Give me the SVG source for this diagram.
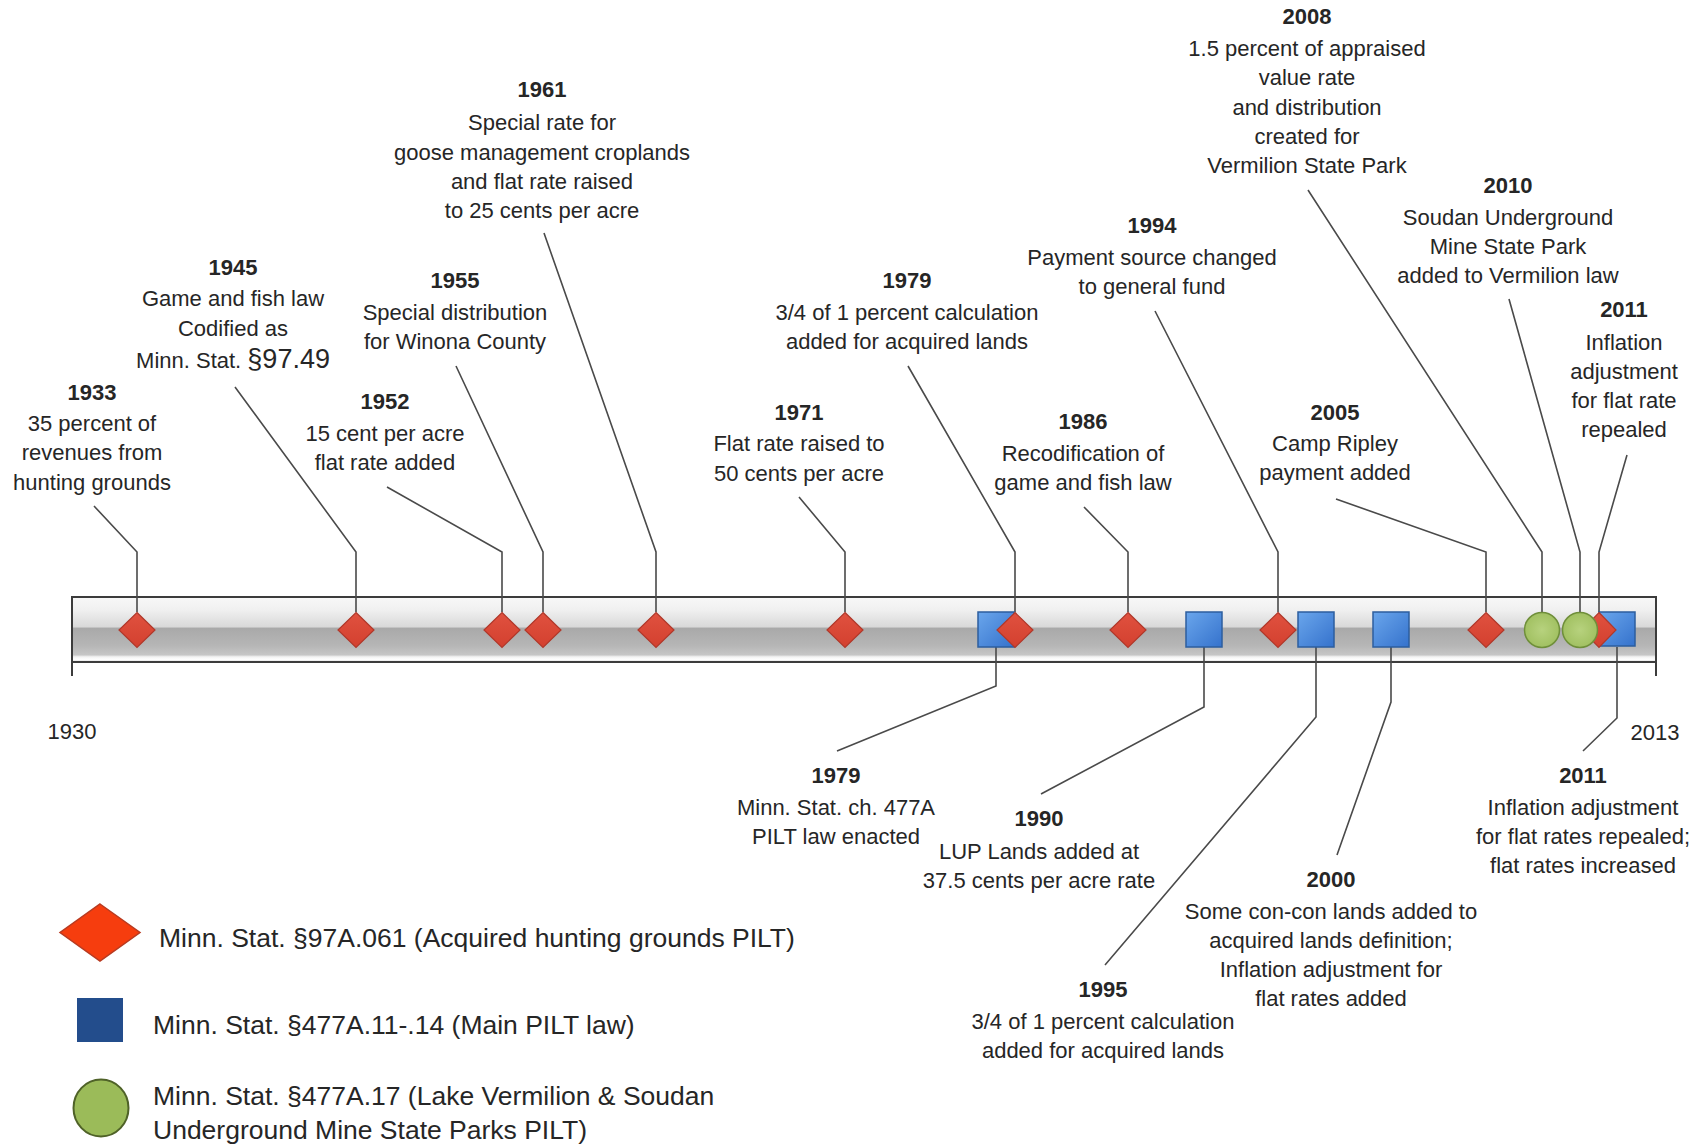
<svg xmlns="http://www.w3.org/2000/svg" width="1707" height="1147" viewBox="0 0 1707 1147">
<defs>
<linearGradient id="barG" x1="0" y1="0" x2="0" y2="1">
<stop offset="0" stop-color="#f8f8f8"/>
<stop offset="0.2" stop-color="#f0f0f0"/>
<stop offset="0.46" stop-color="#d9d9d9"/>
<stop offset="0.48" stop-color="#a9a9a9"/>
<stop offset="0.75" stop-color="#b6b6b6"/>
<stop offset="0.89" stop-color="#c6c6c6"/>
<stop offset="0.92" stop-color="#f2f2f2"/>
<stop offset="0.96" stop-color="#ffffff"/>
<stop offset="1" stop-color="#d8d8d8"/>
</linearGradient>
<linearGradient id="sqG" x1="0" y1="0" x2="1" y2="1">
<stop offset="0" stop-color="#6aa6ec"/>
<stop offset="1" stop-color="#3572cc"/>
</linearGradient>
<radialGradient id="ciG" cx="0.5" cy="0.5" r="0.6">
<stop offset="0" stop-color="#b7d27e"/>
<stop offset="1" stop-color="#9dbd5c"/>
</radialGradient>
<linearGradient id="diG" x1="0" y1="0" x2="0" y2="1">
<stop offset="0" stop-color="#e0513f"/>
<stop offset="1" stop-color="#d3402f"/>
</linearGradient>
</defs>
<style>
.t{font-family:"Liberation Sans",Arial,sans-serif;font-size:22px;fill:#262626;text-anchor:middle}
.y{font-weight:bold}
.lg{font-family:"Liberation Sans",Arial,sans-serif;font-size:26.5px;fill:#262626}
.c{fill:none;stroke:#4a4a4a;stroke-width:1.6}
.dia{fill:url(#diG);stroke:#b0382a;stroke-width:1.2}
.sq{fill:url(#sqG);stroke:#2c5e9e;stroke-width:1.5}
.ci{fill:url(#ciG);stroke:#6f8f3a;stroke-width:1.5}
</style>
<rect width="1707" height="1147" fill="#ffffff"/>

<g id="timeline-bar">
<rect x="72" y="597" width="1584" height="65" fill="url(#barG)" stroke="#3c3c3c" stroke-width="2"/>
<line x1="72" y1="662" x2="72" y2="676" stroke="#3c3c3c" stroke-width="2"/>
<line x1="1656" y1="662" x2="1656" y2="676" stroke="#3c3c3c" stroke-width="2"/>
<text class="t" x="72" y="739">1930</text>
<text class="t" x="1655" y="740">2013</text>
</g>

<g id="connectors">
<polyline class="c" points="137,612 137,552 94,506"/>
<polyline class="c" points="356,612 356,552 235,387"/>
<polyline class="c" points="502,612 502,552 387,487"/>
<polyline class="c" points="543,612 543,552 456,366"/>
<polyline class="c" points="656,612 656,552 544,233"/>
<polyline class="c" points="845,612 845,552 799,497"/>
<polyline class="c" points="1015,612 1015,552 908,366"/>
<polyline class="c" points="1128,612 1128,552 1084,507"/>
<polyline class="c" points="1278,612 1278,552 1155,311"/>
<polyline class="c" points="1486,612 1486,552 1336,499"/>
<polyline class="c" points="1542,612 1542,552 1308,190"/>
<polyline class="c" points="1580,612 1580,552 1509,299"/>
<polyline class="c" points="1599,612 1599,552 1627,455"/>
<polyline class="c" points="996,647 996,686 837,751"/>
<polyline class="c" points="1204,647 1204,707 1041,794"/>
<polyline class="c" points="1316,647 1316,717 1105,965"/>
<polyline class="c" points="1391,647 1391,702 1337,855"/>
<polyline class="c" points="1617,647 1617,718 1583,751"/>
</g>

<g id="m1979-477A"><rect class="sq" x="978" y="612" width="36" height="35"/></g>
<g id="m1933"><polygon class="dia" points="137,612.5 155,630 137,647.5 119,630"/></g>
<g id="m1945"><polygon class="dia" points="356,612.5 374,630 356,647.5 338,630"/></g>
<g id="m1952"><polygon class="dia" points="502,612.5 520,630 502,647.5 484,630"/></g>
<g id="m1955"><polygon class="dia" points="543,612.5 561,630 543,647.5 525,630"/></g>
<g id="m1961"><polygon class="dia" points="656,612.5 674,630 656,647.5 638,630"/></g>
<g id="m1971"><polygon class="dia" points="845,612.5 863,630 845,647.5 827,630"/></g>
<g id="m1979-97A"><polygon class="dia" points="1015,612.5 1033,630 1015,647.5 997,630"/></g>
<g id="m1986"><polygon class="dia" points="1128,612.5 1146,630 1128,647.5 1110,630"/></g>
<g id="m1990"><rect class="sq" x="1186" y="612" width="36" height="35"/></g>
<g id="m1994"><polygon class="dia" points="1278,612.5 1296,630 1278,647.5 1260,630"/></g>
<g id="m1995"><rect class="sq" x="1298" y="612" width="36" height="35"/></g>
<g id="m2000"><rect class="sq" x="1373" y="612" width="36" height="35"/></g>
<g id="m2005"><polygon class="dia" points="1486,612.5 1504,630 1486,647.5 1468,630"/></g>
<g id="m2011-477A"><rect class="sq" x="1599" y="612" width="36" height="34"/></g>
<g id="m2011-97A"><polygon class="dia" points="1599,612.5 1616,630 1599,647.5 1582,630"/></g>
<g id="m2008"><circle class="ci" cx="1542" cy="630" r="17.5"/></g>
<g id="m2010"><circle class="ci" cx="1580" cy="630" r="17.5"/></g>

<g id="l1933">
<text class="t y" x="92" y="400">1933</text>
<text class="t" x="92" y="431">35 percent of</text>
<text class="t" x="92" y="460">revenues from</text>
<text class="t" x="92" y="490">hunting grounds</text>
</g>
<g id="l1945">
<text class="t y" x="233" y="275">1945</text>
<text class="t" x="233" y="306">Game and fish law</text>
<text class="t" x="233" y="336">Codified as</text>
<text class="t" x="233" y="368">Minn. Stat. <tspan font-size="27">§97.49</tspan></text>
</g>
<g id="l1952">
<text class="t y" x="385" y="409">1952</text>
<text class="t" x="385" y="441">15 cent per acre</text>
<text class="t" x="385" y="470">flat rate added</text>
</g>
<g id="l1955">
<text class="t y" x="455" y="288">1955</text>
<text class="t" x="455" y="320">Special distribution</text>
<text class="t" x="455" y="349">for Winona County</text>
</g>
<g id="l1961">
<text class="t y" x="542" y="97">1961</text>
<text class="t" x="542" y="130">Special rate for</text>
<text class="t" x="542" y="160">goose management croplands</text>
<text class="t" x="542" y="189">and flat rate raised</text>
<text class="t" x="542" y="218">to 25 cents per acre</text>
</g>
<g id="l1971">
<text class="t y" x="799" y="420">1971</text>
<text class="t" x="799" y="451">Flat rate raised to</text>
<text class="t" x="799" y="481">50 cents per acre</text>
</g>
<g id="l1979-top">
<text class="t y" x="907" y="288">1979</text>
<text class="t" x="907" y="320">3/4 of 1 percent calculation</text>
<text class="t" x="907" y="349">added for acquired lands</text>
</g>
<g id="l1986">
<text class="t y" x="1083" y="429">1986</text>
<text class="t" x="1083" y="461">Recodification of</text>
<text class="t" x="1083" y="490">game and fish law</text>
</g>
<g id="l1994">
<text class="t y" x="1152" y="233">1994</text>
<text class="t" x="1152" y="265">Payment source changed</text>
<text class="t" x="1152" y="294">to general fund</text>
</g>
<g id="l2005">
<text class="t y" x="1335" y="420">2005</text>
<text class="t" x="1335" y="451">Camp Ripley</text>
<text class="t" x="1335" y="480">payment added</text>
</g>
<g id="l2008">
<text class="t y" x="1307" y="24">2008</text>
<text class="t" x="1307" y="56">1.5 percent of appraised</text>
<text class="t" x="1307" y="85">value rate</text>
<text class="t" x="1307" y="115">and distribution</text>
<text class="t" x="1307" y="144">created for</text>
<text class="t" x="1307" y="173">Vermilion State Park</text>
</g>
<g id="l2010">
<text class="t y" x="1508" y="193">2010</text>
<text class="t" x="1508" y="225">Soudan Underground</text>
<text class="t" x="1508" y="254">Mine State Park</text>
<text class="t" x="1508" y="283">added to Vermilion law</text>
</g>
<g id="l2011-top">
<text class="t y" x="1624" y="317">2011</text>
<text class="t" x="1624" y="350">Inflation</text>
<text class="t" x="1624" y="379">adjustment</text>
<text class="t" x="1624" y="408">for flat rate</text>
<text class="t" x="1624" y="437">repealed</text>
</g>
<g id="l1979-bottom">
<text class="t y" x="836" y="783">1979</text>
<text class="t" x="836" y="815">Minn. Stat. ch. 477A</text>
<text class="t" x="836" y="844">PILT law enacted</text>
</g>
<g id="l1990">
<text class="t y" x="1039" y="826">1990</text>
<text class="t" x="1039" y="859">LUP Lands added at</text>
<text class="t" x="1039" y="888">37.5 cents per acre rate</text>
</g>
<g id="l2000">
<text class="t y" x="1331" y="887">2000</text>
<text class="t" x="1331" y="919">Some con-con lands added to</text>
<text class="t" x="1331" y="948">acquired lands definition;</text>
<text class="t" x="1331" y="977">Inflation adjustment for</text>
<text class="t" x="1331" y="1006">flat rates added</text>
</g>
<g id="l1995">
<text class="t y" x="1103" y="997">1995</text>
<text class="t" x="1103" y="1029">3/4 of 1 percent calculation</text>
<text class="t" x="1103" y="1058">added for acquired lands</text>
</g>
<g id="l2011-bottom">
<text class="t y" x="1583" y="783">2011</text>
<text class="t" x="1583" y="815">Inflation adjustment</text>
<text class="t" x="1583" y="844">for flat rates repealed;</text>
<text class="t" x="1583" y="873">flat rates increased</text>
</g>

<g id="legend-97A">
<polygon points="100,904 140,932.5 100,961 60,932.5" fill="#f63d0e" stroke="#b83a20" stroke-width="1.5"/>
<text class="lg" x="159" y="947">Minn. Stat. §97A.061 (Acquired hunting grounds PILT)</text>
</g>
<g id="legend-477A">
<rect x="77" y="998" width="46" height="44" fill="#234d8c"/>
<text class="lg" x="153" y="1034">Minn. Stat. §477A.11-.14 (Main PILT law)</text>
</g>
<g id="legend-477A17">
<ellipse cx="101" cy="1108" rx="27.5" ry="28.5" fill="#9bbb59" stroke="#4f6228" stroke-width="2"/>
<text class="lg" x="153" y="1105">Minn. Stat. §477A.17 (Lake Vermilion &amp; Soudan</text>
<text class="lg" x="153" y="1139">Underground Mine State Parks PILT)</text>
</g>
</svg>
